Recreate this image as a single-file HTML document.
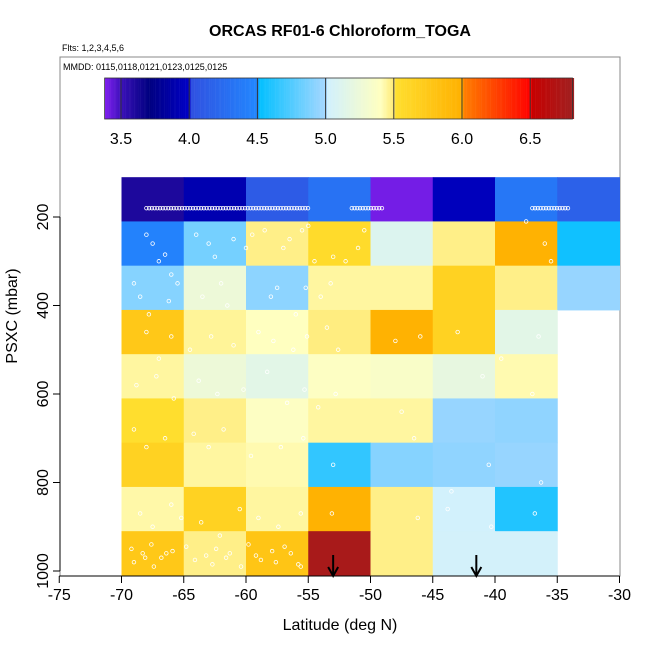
<!DOCTYPE html>
<html><head><meta charset="utf-8"><style>
body{margin:0;background:#fff}
svg{display:block;font-family:"Liberation Sans",sans-serif}
</style></head><body>
<svg id="c" width="650" height="650" viewBox="0 0 650 650">
<text x="340" y="36" text-anchor="middle" font-size="16" font-weight="bold">ORCAS RF01-6 Chloroform_TOGA</text>
<text x="62" y="51" font-size="9">Flts: 1,2,3,4,5,6</text>
<rect x="60" y="57" width="560" height="519" fill="none" stroke="#888" stroke-width="1"/>
<text x="63" y="70" font-size="9">MMDD: 0115,0118,0121,0123,0125,0125</text>
<g id="cells"></g><g id="pts"></g><g id="cbar"></g><g id="axes"></g>
<text x="340" y="630" text-anchor="middle" font-size="16">Latitude (deg N)</text>
<text transform="translate(17,316) rotate(-90)" text-anchor="middle" font-size="16">PSXC (mbar)</text>
</svg>
<script>
const latEdges=[-70,-65,-60,-55,-50,-45,-40,-35,-30];
const presEdges=[110,210,310,410,510,610,710,810,910,1010];
const values=[
[3.6,3.9,4.1,4.3,3.4,3.95,4.35,4.15],
[4.45,4.85,5.47,5.55,5.1,5.47,5.98,4.55],
[4.9,5.25,4.92,5.44,5.44,5.65,5.47,4.95],
[5.75,5.45,5.4,5.48,5.98,5.65,5.15,null],
[5.44,5.25,5.15,5.38,5.35,5.2,5.42,null],
[5.52,5.47,5.38,5.44,5.44,4.95,4.93,null],
[5.65,5.44,5.42,4.65,4.9,4.93,4.95,null],
[5.43,5.65,5.44,5.98,5.47,5.02,4.6,null],
[5.75,5.47,5.78,6.75,5.47,5.03,5.03,null]];
const xTicks=[-75,-70,-65,-60,-55,-50,-45,-40,-35,-30];
const yTicks=[200,400,600,800,1000];
const cbTicks=[3.5,4.0,4.5,5.0,5.5,6.0,6.5];
const arrowLats=[-53,-41.5];
const ptLat=[-68,-67.5,-67,-66.5,-66,-65.5,-64,-63,-62.5,-61,-60,-59.5,-58.5,-57,-56.5,-55.5,-55,-54.5,-53,-52,-51,-50.5,-69,-68.5,-67.8,-66.2,-63.5,-62,-61.5,-58,-57.5,-56,-55.2,-54,-53.2,-68,-67,-66,-64.5,-62.8,-61,-59,-57.8,-56.2,-55.1,-53.5,-52.6,-48,-46,-43,-39.5,-36.5,-68.8,-67.2,-65.8,-63.8,-62.3,-60.2,-58.3,-56.7,-55.3,-54.2,-52.8,-47.5,-41,-37,-69,-68,-66.5,-64.2,-63,-61.8,-59.6,-57.2,-55.4,-53,-46.5,-43.5,-40.5,-36.3,-68.5,-67.5,-66,-65.2,-63.6,-62.1,-60.5,-59,-57.4,-55.6,-53.1,-46.2,-43.8,-40.3,-36.8,-37.5,-36,-35.5,-69.2,-68.3,-67.6,-66.8,-65.9,-64.8,-63.2,-62.4,-61.3,-59.8,-58.8,-57.9,-56.9,-55.8,-69,-68.1,-67.4,-66.4,-64.1,-62.7,-61.6,-60.4,-59.2,-57.6,-56.4,-55.6];
const ptPres=[240,260,300,285,330,350,240,260,290,250,270,240,230,270,250,230,220,300,290,300,270,230,350,380,420,390,380,350,400,380,360,420,360,380,350,460,520,470,500,470,490,460,480,500,470,450,500,480,470,460,520,470,580,560,610,570,600,590,550,620,590,630,600,640,560,600,680,720,700,690,720,680,740,720,700,760,700,820,760,800,870,900,850,880,890,920,860,880,900,870,870,880,860,900,870,210,260,300,950,960,940,970,955,945,965,950,960,940,975,955,945,985,980,970,990,960,975,985,970,990,965,980,960,990];
const trackLat=[[-68,-55],[-51.5,-49],[-37,-34]];
const trackPres=[180,180,180];
const X=v=>121.5+(v+70)*12.45;
const Y=p=>217+(p-200)*0.4425;
const stops=[[3.38,'#7f1fef'],[3.5,'#3a10b8'],[3.7,'#000080'],[4.0,'#0000c8'],[4.001,'#3050e0'],[4.5,'#2288ff'],[4.501,'#00bfff'],[5.0,'#a8d8ff'],[5.001,'#d0f0ff'],[5.4,'#ffffc0'],[5.5,'#ffe870'],[5.501,'#ffe030'],[6.0,'#ffb000'],[6.001,'#ff8000'],[6.5,'#ff0000'],[6.501,'#c80000'],[6.81,'#a02020']];
function hx(h){return [1,3,5].map(i=>parseInt(h.substr(i,2),16));}
function col(v){for(let i=0;i<stops.length-1;i++){const a=stops[i],b=stops[i+1];if(v<=b[0]){const t=Math.max(0,(v-a[0])/(b[0]-a[0]));const c1=hx(a[1]),c2=hx(b[1]);return 'rgb('+c1.map((c,k)=>Math.round(c+(c2[k]-c)*t)).join(',')+')';}}return stops[stops.length-1][1];}
const NS='http://www.w3.org/2000/svg';
function mk(t,a,p){const e=document.createElementNS(NS,t);for(const k in a)e.setAttribute(k,a[k]);p.appendChild(e);return e;}
const cells=document.getElementById('cells');
values.forEach((row,r)=>row.forEach((v,c)=>{if(v===null)return;
const e=mk('rect',{x:X(latEdges[c]),y:Y(presEdges[r]),width:X(latEdges[c+1])-X(latEdges[c])+0.5,height:Y(presEdges[r+1])-Y(presEdges[r])+0.5,fill:col(v)},cells);

}));
const pts=document.getElementById('pts');
ptLat.forEach((la,i)=>{const e=mk('circle',{cx:X(la),cy:Y(ptPres[i]),r:1.8,fill:'none',stroke:'#fff','stroke-width':0.8},pts);

});
trackLat.forEach((seg,i)=>{for(let la=seg[0];la<=seg[1];la+=0.22){const e=mk('circle',{cx:X(la),cy:Y(trackPres[i]),r:1.8,fill:'none',stroke:'#fff','stroke-width':0.8},pts);

}});
arrowLats.forEach(la=>{const g=mk('g',{},pts);


mk('line',{x1:X(la),y1:555,x2:X(la),y2:575,stroke:'#000','stroke-width':2},g);
mk('path',{d:`M${X(la)-5},567 L${X(la)},576 L${X(la)+5},567`,fill:'none',stroke:'#000','stroke-width':2},g);});
const cb=document.getElementById('cbar');
const CX=v=>121+(v-3.5)*136.4;
for(let v=3.38;v<6.81;v+=0.01){mk('rect',{x:CX(v),y:78,width:1.6,height:41,fill:col(v)},cb);}
const cbf=mk('rect',{x:CX(3.38),y:78,width:CX(6.81)-CX(3.38),height:41,fill:'none',stroke:'#333','stroke-width':0.8},cb);


cbTicks.forEach(v=>{mk('line',{x1:CX(v),y1:78,x2:CX(v),y2:119,stroke:'#333','stroke-width':1},cb);
const t=mk('text',{x:CX(v),y:144,'text-anchor':'middle','font-size':16},cb);t.textContent=v.toFixed(1);

});
const ax=document.getElementById('axes');
mk('line',{x1:X(-75),y1:576,x2:X(-30),y2:576,stroke:'#000'},ax);
xTicks.forEach(v=>{mk('line',{x1:X(v),y1:576,x2:X(v),y2:583,stroke:'#000'},ax);
const t=mk('text',{x:X(v),y:600,'text-anchor':'middle','font-size':16},ax);t.textContent=v;

});
mk('line',{x1:60,y1:Y(200),x2:60,y2:Y(1000),stroke:'#000'},ax);
yTicks.forEach(v=>{mk('line',{x1:53,y1:Y(v),x2:60,y2:Y(v),stroke:'#000'},ax);
const t=mk('text',{transform:`translate(48,${Y(v)}) rotate(-90)`,'text-anchor':'middle','font-size':16},ax);t.textContent=v;

});
</script>
</body></html>
